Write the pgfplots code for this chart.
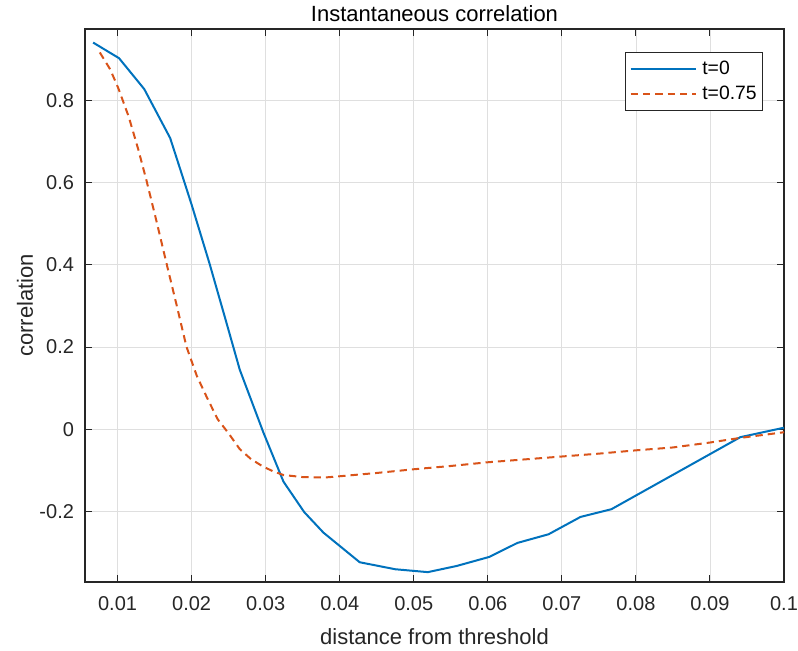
\documentclass[border=0pt]{standalone}
\usepackage{fontspec}
\setmainfont{Liberation Sans}
\usepackage{pgfplots}
\pgfplotsset{compat=1.18}

\definecolor{mblue}{rgb}{0,0.447,0.741}
\definecolor{morange}{rgb}{0.85,0.325,0.098}
\definecolor{axgray}{rgb}{0.15,0.15,0.15}
\definecolor{gridc}{RGB}{223,223,223}

\begin{document}
\begin{tikzpicture}
\begin{axis}[
    scale only axis,
    width=524.25pt, height=414.75pt,
    xmin=0.0056, xmax=0.1,
    ymin=-0.371, ymax=0.973,
    xtick={0.01,0.02,0.03,0.04,0.05,0.06,0.07,0.08,0.09,0.1},
    ytick={-0.2,0,0.2,0.4,0.6,0.8},
    scaled x ticks=false, scaled y ticks=false,
    /pgf/number format/assume math mode=true,
    xticklabel style={/pgf/number format/fixed, /pgf/number format/precision=2, yshift=-7pt},
    yticklabel style={/pgf/number format/fixed, /pgf/number format/precision=1, xshift=-4.75pt},
    tick label style={font=\fontsize{15}{18}\selectfont, text=axgray},
    label style={font=\fontsize{16.5}{20}\selectfont, text=axgray},
    xlabel style={at={(axis description cs:0.5,-0.113)}, anchor=base},
    ylabel style={at={(axis description cs:-0.0745,0.5)}, anchor=base, rotate=0},
    xlabel={distance from threshold},
    ylabel={correlation},
    grid=major,
    major grid style={gridc, line width=0.6pt},
    axis line style={axgray, line width=0.8pt},
    tick style={axgray, line width=0.8pt},
    major tick length=5pt,
    tick align=inside,
    legend style={at={(axis description cs:0.97,0.958)}, anchor=north east,
        draw=axgray, line width=0.6pt, fill=white,
        font=\fontsize{14.5}{17}\selectfont,
        inner xsep=3pt, inner ysep=5pt, row sep=4pt,
        nodes={inner sep=1.5pt}},
    legend cell align=left,
    legend image code/.code={\draw[#1] (0pt,0pt) -- (48.75pt,0pt); \path (51.5pt,0pt);},
]
\addplot[mblue, line width=1.5pt] coordinates {
    (0.0067,0.940) (0.0102,0.902) (0.0136,0.827) (0.0171,0.708)
    (0.0185,0.630) (0.0200,0.546) (0.0224,0.404) (0.0245,0.272)
    (0.0265,0.145) (0.0297,-0.008) (0.0324,-0.127) (0.0352,-0.201)
    (0.0378,-0.251) (0.0427,-0.323) (0.0475,-0.340) (0.0519,-0.347)
    (0.0558,-0.332) (0.0602,-0.310) (0.0640,-0.276) (0.0682,-0.255)
    (0.0725,-0.213) (0.0767,-0.194) (0.0941,-0.019) (0.1000,0.004)
};
\addlegendentry{t=0}
\addplot[morange, line width=1.5pt, dash pattern=on 5.5pt off 3.75pt] coordinates {
    (0.0076,0.916) (0.0090,0.875) (0.0101,0.829) (0.0115,0.760)
    (0.0128,0.680) (0.0139,0.605) (0.0152,0.510) (0.0166,0.404)
    (0.0180,0.300) (0.0193,0.201) (0.0207,0.130) (0.0220,0.080)
    (0.0235,0.025) (0.0250,-0.010) (0.0265,-0.048) (0.0280,-0.072)
    (0.0296,-0.090) (0.0310,-0.102) (0.0324,-0.111) (0.0350,-0.116)
    (0.0380,-0.117) (0.0400,-0.114) (0.0450,-0.106) (0.0500,-0.097)
    (0.0550,-0.089) (0.0600,-0.080) (0.0650,-0.073) (0.0700,-0.066)
    (0.0750,-0.059) (0.0800,-0.051) (0.0850,-0.044) (0.0900,-0.032)
    (0.0940,-0.021) (0.1000,-0.007)
};
\addlegendentry{t=0.75}
\end{axis}
\node[anchor=base, inner sep=0pt, font=\fontsize{16.5}{20}\selectfont, text=black]
    at ([yshift=5.5pt]current axis.north) {Instantaneous correlation};
\pgfresetboundingbox
\useasboundingbox ([xshift=-63.75pt,yshift=-51pt]current axis.south west)
    rectangle ([xshift=10.5pt,yshift=21.75pt]current axis.north east);
\end{tikzpicture}
\end{document}
